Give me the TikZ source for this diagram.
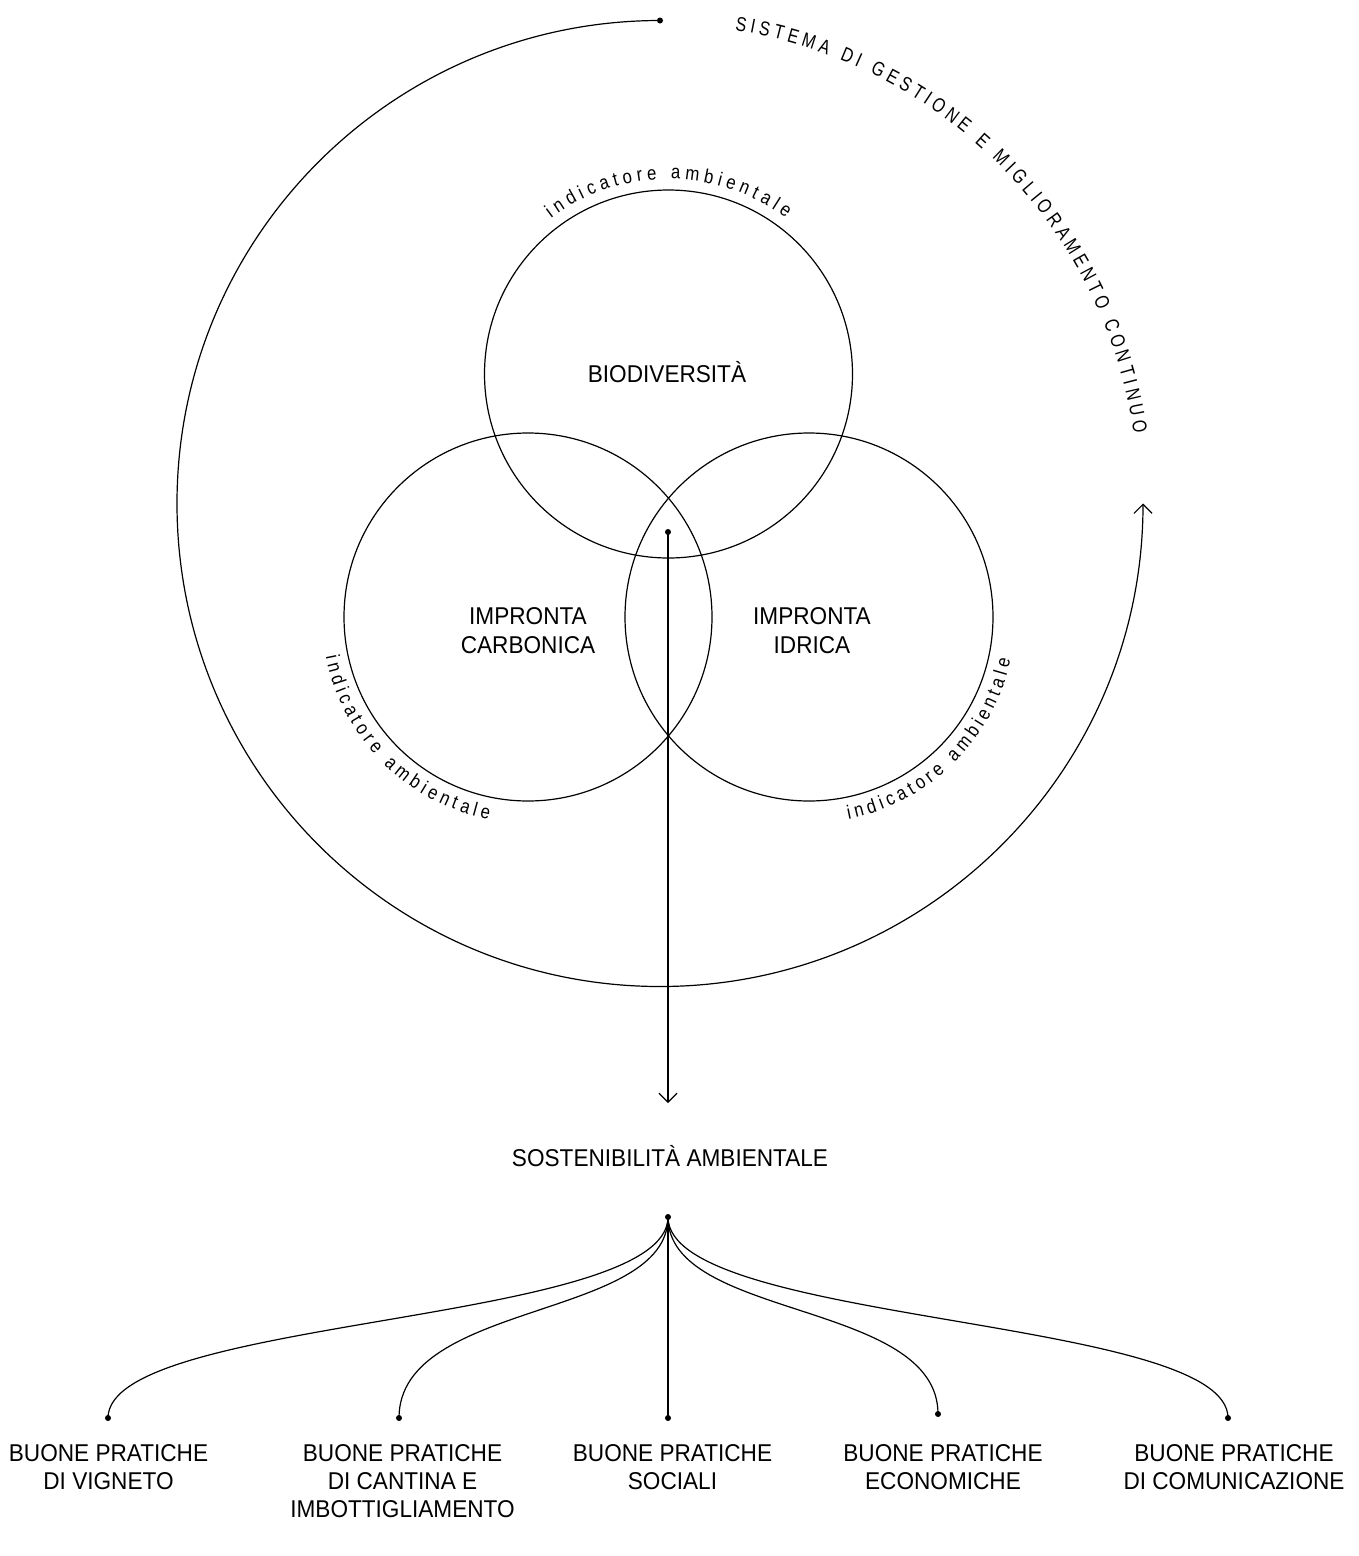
\documentclass[tikz,border=0pt]{standalone}
\usepackage{fontspec}
\setmainfont{Liberation Sans}[FakeStretch=0.93]
\newfontfamily\narrowfont{Liberation Sans}[FakeStretch=0.8]
\newfontfamily\indfont{Liberation Sans}[FakeStretch=0.86]
\usetikzlibrary{arrows.meta,decorations.text}
\begin{document}
\begin{tikzpicture}[x=1pt,y=1pt,
  line/.style={line width=1.2pt},
  ring/.style={circle, draw, line width=1.2pt, minimum size=368pt, inner sep=0pt},
  lbl/.style={font=\fontsize{24.3}{29.5}\selectfont, align=center, inner sep=0pt},
  blbl/.style={font=\fontsize{24.3}{28}\selectfont, align=center, inner sep=0pt, anchor=north},
  dot/.style={circle, fill, inner sep=0pt, minimum size=6pt},
  tip/.style={-{Straight Barb[length=9pt,width=18pt]}},
  curvetext/.style={decorate, decoration={text along path, text align={fit to path}, text={#1}}}
]
\path[use as bounding box, fill=white] (0,0) rectangle (1358,-1556);

% big cycle arc
\coordinate (bigc) at (660,-503.5);
\node[dot] (top) at (660,-20.5) {};
\coordinate (arcend) at (1143,-503.5);
\draw[line, tip] (top.center) arc[start angle=90, end angle=360, radius=483];
\path[curvetext={|\narrowfont\fontsize{20}{20}\selectfont|SISTEMA DI GESTIONE E MIGLIORAMENTO CONTINUO}]
  (bigc) ++(81:479) arc[start angle=81, end angle=8.5, radius=479];

% three circles
\node[ring] (bio) at (668.5,-374) {};
\node[ring] (carb) at (528,-617) {};
\node[ring] (idr) at (809,-617) {};

\node[lbl, anchor=base] (biot) at (667,-382) {BIODIVERSITÀ};
\node[lbl, anchor=north] (carbt) at (528,-607) {IMPRONTA\\CARBONICA};
\node[lbl, anchor=north] (idrt) at (812,-607) {IMPRONTA\\IDRICA};

\path[curvetext={|\indfont\fontsize{19.5}{19.5}\selectfont|indicatore ambientale}]
  (bio.center) ++(127:195) arc[start angle=127, end angle=53, radius=195];
\path[curvetext={|\indfont\fontsize{19.5}{19.5}\selectfont|indicatore ambientale}]
  (carb.center) ++(191:206) arc[start angle=191, end angle=259, radius=206];
\path[curvetext={|\indfont\fontsize{19.5}{19.5}\selectfont|indicatore ambientale}]
  (idr.center) ++(281:206) arc[start angle=281, end angle=348, radius=206];

% vertical connector
\node[dot] (vstart) at (668,-532) {};
\coordinate (vend) at (668,-1103);
\draw[line, tip] (vstart.center) -- (vend);

\node[lbl, anchor=base] (sost) at (670,-1166) {SOSTENIBILITÀ AMBIENTALE};

% fan
\node[dot] (hub) at (668,-1217) {};
\node[dot] (d1) at (108,-1418) {};
\node[dot] (d2) at (399,-1418) {};
\node[dot] (d3) at (668,-1418) {};
\node[dot] (d4) at (938,-1414) {};
\node[dot] (d5) at (1228,-1418) {};

\draw[line] (hub.center) .. controls +(0,-108) and +(0,102) .. (d1.center);
\draw[line] (hub.center) .. controls +(0,-103) and +(0,118) .. (d2.center);
\draw[line] (hub.center) -- (d3.center);
\draw[line] (hub.center) .. controls +(0,-103) and +(0,114) .. (d4.center);
\draw[line] (hub.center) .. controls +(0,-108) and +(0,102) .. (d5.center);

\node[blbl] (l1) at (108.5,-1444) {BUONE PRATICHE\\DI VIGNETO};
\node[blbl] (l2) at (402.5,-1444) {BUONE PRATICHE\\DI CANTINA E\\IMBOTTIGLIAMENTO};
\node[blbl] (l3) at (672.5,-1444) {BUONE PRATICHE\\SOCIALI};
\node[blbl] (l4) at (943,-1444) {BUONE PRATICHE\\ECONOMICHE};
\node[blbl] (l5) at (1234,-1444) {BUONE PRATICHE\\DI COMUNICAZIONE};
\end{tikzpicture}
\end{document}
